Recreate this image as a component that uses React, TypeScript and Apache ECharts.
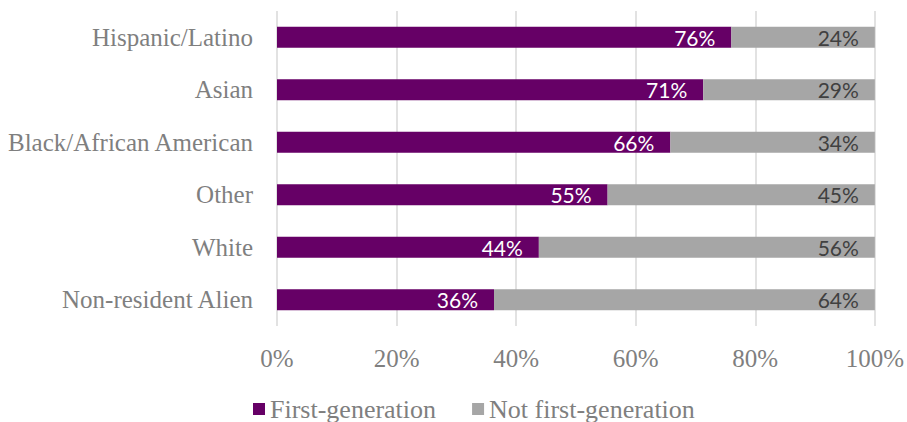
import React, { useEffect, useRef } from "react";
import * as echarts from "echarts";

const categories = [
  "Hispanic/Latino",
  "Asian",
  "Black/African American",
  "Other",
  "White",
  "Non-resident Alien",
];
const firstGen = [76.0, 71.3, 65.8, 55.3, 43.8, 36.3];
const notFirstGen = [24.0, 28.7, 34.2, 44.7, 56.2, 63.7];
const xTicks = [0, 20, 40, 60, 80, 100];

const serif = "'Liberation Serif', serif";
const sans = "Lato, 'Open Sans', sans-serif";

export default function App() {
  const ref = useRef<HTMLDivElement>(null);
  useEffect(() => {
    if (!ref.current) return;
    const chart = echarts.init(ref.current, null, { renderer: "svg" });
    chart.setOption({
      animation: false,
      grid: { left: 277, right: 30, top: 11, bottom: 96, containLabel: false },
      legend: {
        top: 391,
        left: 248,
        itemWidth: 12,
        itemHeight: 12,
        itemGap: 36,
        icon: "rect",
        textStyle: { fontFamily: serif, fontSize: 26, color: "#7f7f7f" },
        data: ["First-generation", "Not first-generation"],
      },
      xAxis: {
        type: "value",
        min: xTicks[0],
        max: xTicks[xTicks.length - 1],
        interval: 20,
        axisLine: { show: false },
        axisTick: { show: false },
        splitLine: { show: true, lineStyle: { color: "#d9d9d9", width: 1.5 } },
        axisLabel: {
          formatter: (v: number) => `${v}%`,
          fontFamily: serif,
          fontSize: 25,
          color: "#7f7f7f",
          margin: 20,
        },
      },
      yAxis: {
        type: "category",
        data: categories,
        inverse: true,
        axisLine: { show: false },
        axisTick: { show: false },
        axisLabel: {
          fontFamily: serif,
          fontSize: 25,
          color: "#7f7f7f",
          margin: 24,
        },
      },
      series: [
        {
          name: "First-generation",
          type: "bar",
          stack: "total",
          data: firstGen,
          barCategoryGap: "60%",
          itemStyle: { color: "#660066" },
          label: {
            show: true,
            position: "insideRight",
            distance: 16,
            formatter: (p: any) => `${Math.round(p.value)}%`,
            color: "#ffffff",
            fontFamily: sans,
            fontSize: 21,
          },
        },
        {
          name: "Not first-generation",
          type: "bar",
          stack: "total",
          data: notFirstGen,
          itemStyle: { color: "#a6a6a6" },
          label: {
            show: true,
            position: "insideRight",
            distance: 16,
            formatter: (p: any) => `${Math.round(p.value)}%`,
            color: "#404040",
            fontFamily: sans,
            fontSize: 21,
          },
        },
      ],
    });
    return () => chart.dispose();
  }, []);
  return <div ref={ref} style={{ width: 907, height: 422, position: "absolute", left: 0, top: 0 }} />;
}
